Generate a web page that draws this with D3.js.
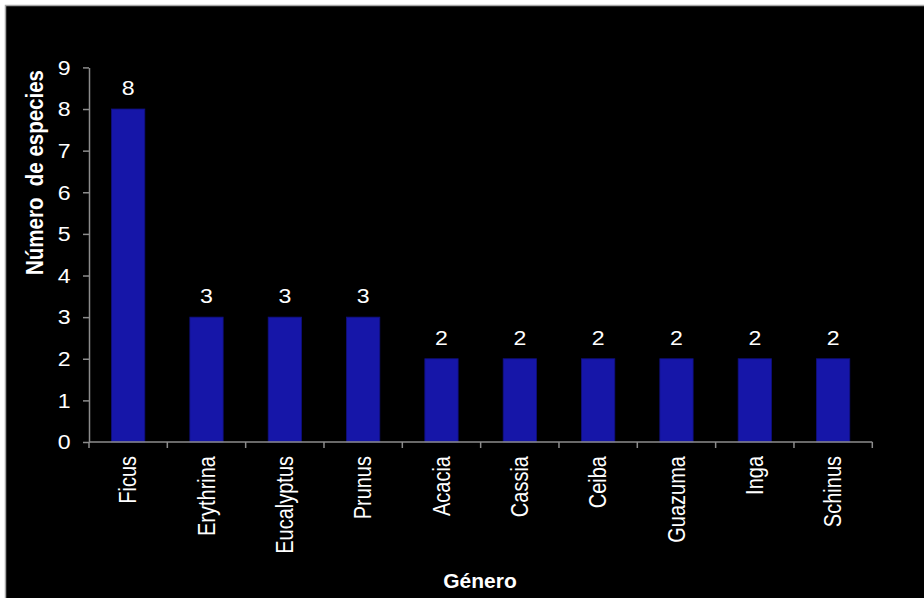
<!DOCTYPE html>
<html>
<head>
<meta charset="utf-8">
<script src="https://cdn.jsdelivr.net/npm/d3@7"></script>
<style>
  html, body { margin: 0; padding: 0; background: #ffffff; }
  svg { display: block; }
  text { font-family: "Liberation Sans", Arial, Helvetica, sans-serif; fill: #ffffff; }
</style>
</head>
<body>
<svg id="chart" width="924" height="598"></svg>
<script>
// Genera and number of species per genus
const generos = ["Ficus", "Erythrina", "Eucalyptus", "Prunus", "Acacia", "Cassia", "Ceiba", "Guazuma", "Inga", "Schinus"];
const especies = [8, 3, 3, 3, 2, 2, 2, 2, 2, 2];
const yTicks = [0, 1, 2, 3, 4, 5, 6, 7, 8, 9];

const svg = d3.select("#chart");
const W = 924, H = 598;
const plotLeft = 89, plotRight = 872.3, plotTop = 67.4, plotBottom = 442;
const sx = 1.1;     // slightly wide glyphs for horizontal text
const sxRot = 1.15; // and for the rotated labels

// panel background and frame
svg.append("rect")
  .attr("x", 5.5).attr("y", 5.5)
  .attr("width", W + 20).attr("height", H + 20)
  .attr("fill", "#000000")
  .attr("stroke", "#a6a6a6").attr("stroke-width", 1.5);

const x = d3.scaleBand().domain(generos).range([plotLeft, plotRight]).paddingInner(0).paddingOuter(0);
const y = d3.scaleLinear().domain([0, 9]).range([plotBottom, plotTop]);

const barW = x.bandwidth() * 0.425;

// bars
svg.append("g").selectAll("rect")
  .data(generos)
  .join("rect")
  .attr("x", (d) => x(d) + x.bandwidth() / 2 - barW / 2)
  .attr("y", (d, i) => y(especies[i]))
  .attr("width", barW)
  .attr("height", (d, i) => y(0) - y(especies[i]))
  .attr("fill", "#1616a8")
  .attr("stroke", "#10107e")
  .attr("stroke-width", 0.8);

// value labels
svg.append("g").selectAll("text")
  .data(generos)
  .join("text")
  .attr("transform", (d, i) => `translate(${x(d) + x.bandwidth() / 2},${y(especies[i]) - 14}) scale(${sx},1)`)
  .attr("text-anchor", "middle")
  .attr("font-size", 21)
  .text((d, i) => especies[i]);

// y axis
const yAxis = svg.append("g")
  .attr("transform", `translate(${plotLeft},0)`)
  .call(d3.axisLeft(y).tickValues(yTicks).tickFormat(d3.format("d")).tickSize(6).tickSizeOuter(0).tickPadding(10.8));
yAxis.select(".domain").attr("stroke", "#8c8c8c").attr("stroke-width", 1.5);
yAxis.selectAll(".tick line").attr("stroke", "#8c8c8c").attr("stroke-width", 1.5);
yAxis.selectAll(".tick text")
  .attr("fill", "#ffffff")
  .attr("font-size", 21)
  .attr("font-family", "Liberation Sans, Arial, sans-serif")
  .attr("transform", `scale(${sx},1)`);

// x axis line and category boundary ticks
const xb = svg.append("g");
xb.append("line")
  .attr("x1", plotLeft).attr("x2", plotRight)
  .attr("y1", plotBottom).attr("y2", plotBottom)
  .attr("stroke", "#8c8c8c").attr("stroke-width", 1.5);
const bounds = generos.map((d) => x(d)).concat([x(generos[generos.length - 1]) + x.step()]);
xb.selectAll("line.bt")
  .data(bounds)
  .join("line")
  .attr("class", "bt")
  .attr("x1", (d) => d).attr("x2", (d) => d)
  .attr("y1", plotBottom).attr("y2", plotBottom + 6)
  .attr("stroke", "#8c8c8c").attr("stroke-width", 1.5);

// category labels, rotated
svg.append("g").selectAll("text")
  .data(generos)
  .join("text")
  .attr("transform", (d) => `translate(${x(d) + x.bandwidth() / 2},${plotBottom + 14}) scale(${sxRot},1) rotate(-90)`)
  .attr("text-anchor", "end")
  .attr("dy", "0.36em")
  .attr("font-size", 20)
  .text((d) => d);

// axis titles
svg.append("text")
  .attr("transform", `translate(34.5,172.5) scale(${sxRot},1) rotate(-90)`)
  .attr("text-anchor", "middle")
  .attr("dy", "0.36em")
  .attr("font-size", 20.5)
  .attr("font-weight", "bold")
  .style("white-space", "pre")
  .text("Número  de especies");

svg.append("text")
  .attr("transform", `translate(480,587.5) scale(1.05,1)`)
  .attr("text-anchor", "middle")
  .attr("font-size", 20)
  .attr("font-weight", "bold")
  .text("Género");
</script>
</body>
</html>
